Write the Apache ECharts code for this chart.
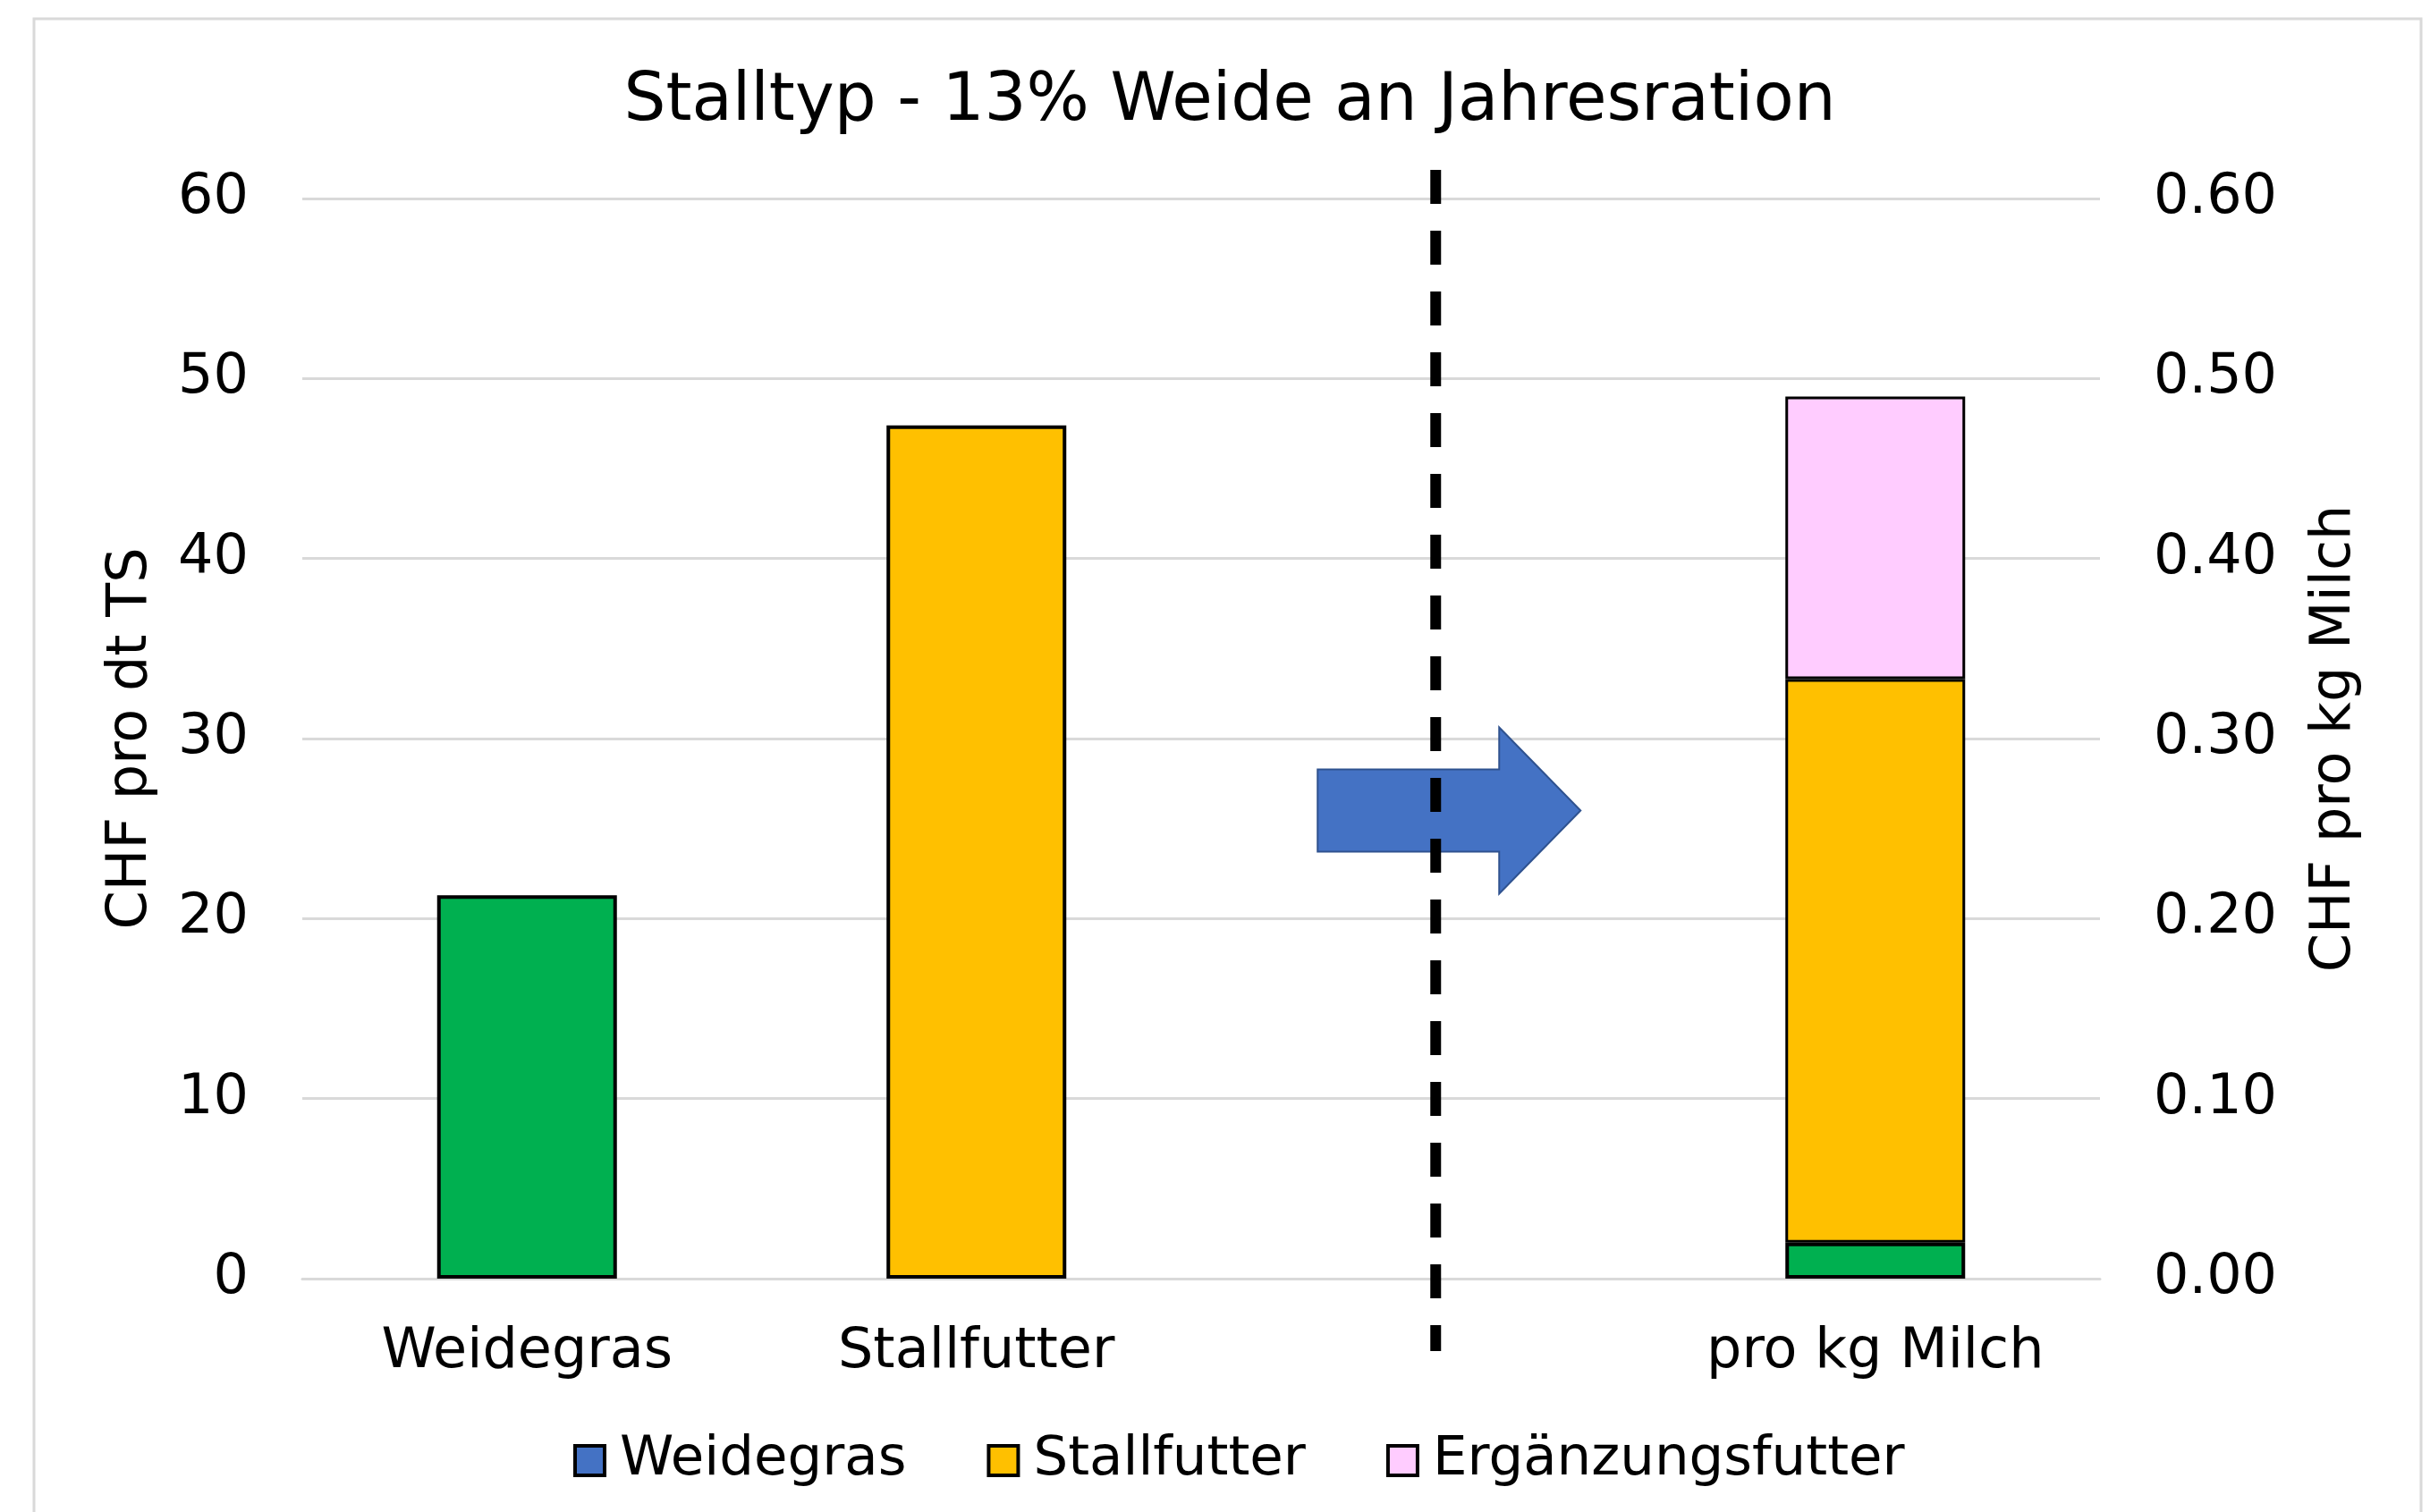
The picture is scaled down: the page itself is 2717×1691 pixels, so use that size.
<!DOCTYPE html>
<html>
<head>
<meta charset="utf-8">
<script src="https://cdn.jsdelivr.net/npm/echarts@6/dist/echarts.min.js"></script>
<style>
  html, body { margin: 0; padding: 0; background: #fff; }
  #chart { width: 2717px; height: 1691px; }
</style>
</head>
<body>
<div id="chart"></div>
<script>
const categories = ['Weidegras', 'Stallfutter', '', 'pro kg Milch'];

// CHF pro dt TS (left axis)
const weidegrasDt = [21.3, '-', '-', '-'];
const stallfutterDt = ['-', 47.4, '-', '-'];

// CHF pro kg Milch (right axis, stacked)
const weidegrasKg = ['-', '-', '-', 0.02];
const stallfutterKg = ['-', '-', '-', 0.313];
const ergaenzungKg = ['-', '-', '-', 0.157];

const leftTicks = { min: 0, max: 60, interval: 10 };
const rightTicks = { min: 0, max: 0.6, interval: 0.1 };

const COLORS = {
    weide: '#00B050',
    weideLegend: '#4472C4',
    stall: '#FFC000',
    ergaenzung: '#FFCCFF',
    grid: '#D9D9D9'
};

const FONT = 'DejaVu Sans';
const chart = echarts.init(document.getElementById('chart'), null, { renderer: 'canvas' });

const barBase = {
    type: 'bar',
    barWidth: '40%',
    barGap: '-100%',
    itemStyle: { borderColor: '#000', borderWidth: 4 }
};

// green bars, but the legend shows the series colour (blue) like the original
const greenItems = arr => arr.map(v => v === '-' ? '-' : { value: v, itemStyle: { color: COLORS.weide } });

chart.setOption({
    animation: false,
    backgroundColor: '#fff',
    textStyle: { fontFamily: FONT, color: '#000' },
    title: {
        text: 'Stalltyp - 13% Weide an Jahresration',
        left: 1370,
        textAlign: 'center',
        top: 73,
        textStyle: { fontFamily: FONT, fontSize: 74, fontWeight: 'normal', color: '#000' }
    },
    legend: {
        data: ['Weidegras', 'Stallfutter', 'Ergänzungsfutter'],
        top: 1598,
        left: 636,
        icon: 'rect',
        itemWidth: 33,
        itemHeight: 33,
        itemGap: 90,
        itemStyle: { borderColor: '#000', borderWidth: 4 },
        textStyle: { fontFamily: FONT, fontSize: 61, color: '#000', padding: [0, 0, 0, 12] }
    },
    grid: { left: 338, right: 369, top: 222, bottom: 261, containLabel: false },
    xAxis: {
        type: 'category',
        data: categories,
        axisLine: { show: true, lineStyle: { color: COLORS.grid, width: 3 } },
        axisTick: { show: false },
        axisLabel: { color: '#000', fontSize: 62, fontFamily: FONT, margin: 52 }
    },
    yAxis: [
        {
            type: 'value',
            min: leftTicks.min, max: leftTicks.max, interval: leftTicks.interval,
            name: 'CHF pro dt TS',
            nameLocation: 'middle',
            nameGap: 160,
            nameTextStyle: { fontSize: 62, fontFamily: FONT, color: '#000' },
            axisLine: { show: false },
            axisTick: { show: false },
            axisLabel: { color: '#000', fontSize: 62, fontFamily: FONT, margin: 60 },
            splitLine: { lineStyle: { color: COLORS.grid, width: 3 } }
        },
        {
            type: 'value',
            position: 'right',
            min: rightTicks.min, max: rightTicks.max, interval: rightTicks.interval,
            name: 'CHF pro kg Milch',
            nameLocation: 'middle',
            nameGap: 232,
            nameTextStyle: { fontSize: 62, fontFamily: FONT, color: '#000' },
            axisLine: { show: false },
            axisTick: { show: false },
            axisLabel: {
                color: '#000', fontSize: 62, fontFamily: FONT, margin: 60,
                formatter: v => v.toFixed(2)
            },
            splitLine: { show: false }
        }
    ],
    series: [
        Object.assign({}, barBase, {
            name: 'Weidegras', yAxisIndex: 0,
            itemStyle: Object.assign({}, barBase.itemStyle, { color: COLORS.weideLegend }),
            data: greenItems(weidegrasDt)
        }),
        Object.assign({}, barBase, {
            name: 'Stallfutter', yAxisIndex: 0,
            itemStyle: Object.assign({}, barBase.itemStyle, { color: COLORS.stall }),
            data: stallfutterDt
        }),
        Object.assign({}, barBase, {
            name: 'Weidegras', yAxisIndex: 1, stack: 'milch',
            itemStyle: Object.assign({}, barBase.itemStyle, { color: COLORS.weideLegend }),
            data: greenItems(weidegrasKg)
        }),
        Object.assign({}, barBase, {
            name: 'Stallfutter', yAxisIndex: 1, stack: 'milch',
            itemStyle: Object.assign({}, barBase.itemStyle, { color: COLORS.stall, borderWidth: 3 }),
            data: stallfutterKg
        }),
        Object.assign({}, barBase, {
            name: 'Ergänzungsfutter', yAxisIndex: 1, stack: 'milch',
            itemStyle: Object.assign({}, barBase.itemStyle, { color: COLORS.ergaenzung, borderWidth: 3 }),
            data: ergaenzungKg
        })
    ]
});

// annotations: arrow and dashed separator placed relative to the empty category
function drawAnnotations() {
    const cx = chart.convertToPixel({ xAxisIndex: 0 }, 2);
    const yTop = chart.convertToPixel({ yAxisIndex: 0 }, leftTicks.max);
    const yZero = chart.convertToPixel({ yAxisIndex: 0 }, 0);
    const ay = chart.convertToPixel({ yAxisIndex: 0 }, 26);
    const lineX = cx + 11;

    chart.setOption({
        graphic: [
            {
                type: 'rect',
                shape: { x: 38, y: 21, width: 2669, height: 1720 },
                style: { fill: 'none', stroke: COLORS.grid, lineWidth: 3 },
                silent: true, z: 0
            },
            {
                type: 'polygon',
                shape: {
                    points: [
                        [cx - 121, ay - 46], [cx + 82, ay - 46], [cx + 82, ay - 93],
                        [cx + 173, ay], [cx + 82, ay + 93], [cx + 82, ay + 46],
                        [cx - 121, ay + 46]
                    ]
                },
                style: { fill: '#4472C4', stroke: '#2F528F', lineWidth: 2 },
                z: 10
            },
            {
                type: 'line',
                shape: { x1: lineX, y1: yTop - 32, x2: lineX, y2: yZero + 81 },
                style: { stroke: '#000', lineWidth: 12, lineDash: [38, 30] },
                z: 11
            }
        ]
    });
}

drawAnnotations();
</script>
</body>
</html>
